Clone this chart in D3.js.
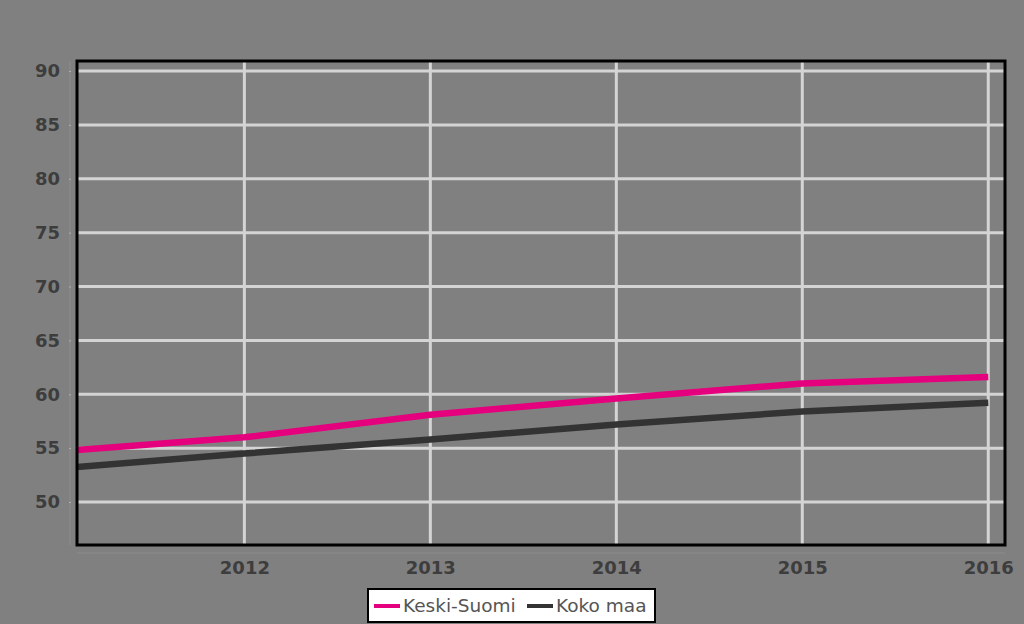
<!DOCTYPE html>
<html><head><meta charset="utf-8">
<script src="https://cdn.jsdelivr.net/npm/d3@7/dist/d3.min.js"></script>
<style>html,body{margin:0;padding:0;background:#808080;}svg{display:block;}</style>
</head><body>
<script>
const years = [2011, 2012, 2013, 2014, 2015, 2016];
const keskiSuomi = [54.7, 56.0, 58.1, 59.6, 61.0, 61.6];
const kokoMaa = [53.1, 54.5, 55.8, 57.2, 58.4, 59.2];
const seriesNames = ["Keski-Suomi", "Koko maa"];
const xTicks = [2012, 2013, 2014, 2015, 2016];
const yTicks = [50, 55, 60, 65, 70, 75, 80, 85, 90];

const W = 1024, H = 624;
const L = 77, R = 1005, T = 61, B = 545;
const svg = d3.select("body").append("svg").attr("width", W).attr("height", H);
svg.append("rect").attr("width", W).attr("height", H).attr("fill", "#808080");

const x = d3.scaleLinear().domain([2011.1, 2016.09]).range([L, R]);
const y = d3.scaleLinear().domain([50, 90]).range([502, 71]);

// faint outer axis lines
svg.append("line").attr("x1", 70).attr("x2", 70).attr("y1", T).attr("y2", B).attr("stroke", "#8c8c8c").attr("stroke-width", 1);
svg.append("line").attr("x1", L).attr("x2", R).attr("y1", 553).attr("y2", 553).attr("stroke", "#8c8c8c").attr("stroke-width", 1);

// gridlines
const g = svg.append("g");
g.selectAll("line.h").data(yTicks).join("line")
  .attr("x1", L).attr("x2", R).attr("y1", d => y(d)).attr("y2", d => y(d))
  .attr("stroke", "#d4d4d4").attr("stroke-width", 3);
g.selectAll("line.v").data(xTicks).join("line")
  .attr("x1", d => x(d)).attr("x2", d => x(d)).attr("y1", T).attr("y2", B)
  .attr("stroke", "#d4d4d4").attr("stroke-width", 3);

// y axis labels
const yAxis = d3.axisLeft(y).tickValues(yTicks).tickSize(2).tickPadding(9);
const ya = svg.append("g").attr("transform", `translate(${L - 6},0)`).call(yAxis);
ya.select(".domain").remove();
ya.selectAll(".tick line").attr("stroke", "#b0b0b0");
ya.selectAll("text").attr("fill", "#3d3d3d").attr("font-family", "DejaVu Sans").attr("font-weight", "bold").attr("font-size", 18);

// x axis labels
const xAxis = d3.axisBottom(x).tickValues(xTicks).tickFormat(d3.format("d")).tickSize(0).tickPadding(16);
const xa = svg.append("g").attr("transform", `translate(0,${B})`).call(xAxis);
xa.select(".domain").remove();
xa.selectAll("text").attr("fill", "#3d3d3d").attr("font-family", "DejaVu Sans").attr("font-weight", "bold").attr("font-size", 18);

// clip
svg.append("clipPath").attr("id", "clip").append("rect").attr("x", L).attr("y", T).attr("width", R - L).attr("height", B - T);

const line = d3.line().x(d => x(d[0])).y(d => y(d[1]));
const colors = ["#e5007d", "#333333"];
const data = [keskiSuomi, kokoMaa];
svg.append("g").attr("clip-path", "url(#clip)").selectAll("path").data(data).join("path")
  .attr("d", vals => line(years.map((yr, i) => [yr, vals[i]])))
  .attr("fill", "none").attr("stroke", (d, i) => colors[i]).attr("stroke-width", 6.5)
  .attr("stroke-linejoin", "round");

// frame
svg.append("rect").attr("x", L).attr("y", T).attr("width", R - L).attr("height", B - T)
  .attr("fill", "none").attr("stroke", "#000").attr("stroke-width", 3);

// legend
const lg = svg.append("g");
lg.append("rect").attr("x", 368).attr("y", 589).attr("width", 287).attr("height", 33)
  .attr("fill", "#fff").attr("stroke", "#000").attr("stroke-width", 2);
const legX = [374, 527];
seriesNames.forEach((n, i) => {
  lg.append("line").attr("x1", legX[i]).attr("x2", legX[i] + 26).attr("y1", 606).attr("y2", 606)
    .attr("stroke", colors[i]).attr("stroke-width", 4);
  lg.append("text").attr("x", legX[i] + 29).attr("y", 612).text(n)
    .attr("fill", "#555").attr("font-family", "DejaVu Sans").attr("font-size", 18.5);
});
</script>
</body></html>
